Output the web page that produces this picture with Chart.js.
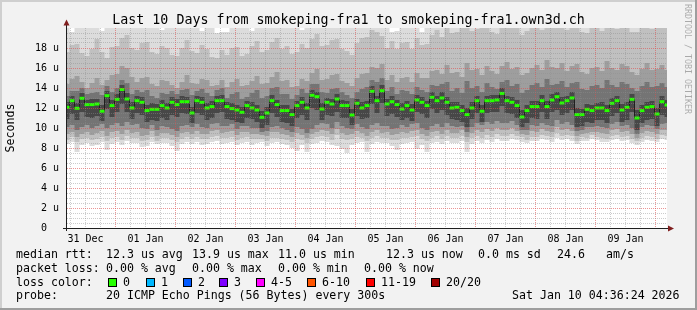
<!DOCTYPE html>
<html>
<head>
<meta charset="utf-8">
<script src="https://cdn.jsdelivr.net/npm/chart.js@4.4.1/dist/chart.umd.min.js"></script>
<style>
  html, body { margin: 0; padding: 0; background: #f2f2f2; }
  canvas { display: block; }
</style>
</head>
<body>
<canvas id="smoke" width="697" height="310"></canvas>
<script>
// time axis is in hours since 31 Dec 00:00; the graph covers 10 days ending Jan 10 04:36
const startHour = 4.6;
const spanHours = 240;
const stepHours = 2;

const dayLabels = ['31 Dec', '01 Jan', '02 Jan', '03 Jan', '04 Jan', '05 Jan', '06 Jan', '07 Jan', '08 Jan', '09 Jan'];
const yTickLabels = ['0  ', '2 u', '4 u', '6 u', '8 u', '10 u', '12 u', '14 u', '16 u', '18 u'];

// median rtt (us), one value every 2 hours
const median = [
  12.07, 12.73, 11.97, 12.97, 12.34, 12.34, 12.40, 11.68, 13.23, 12.24,
  12.87, 13.85, 12.90, 12.00, 12.73, 12.57, 11.74, 11.87, 11.87, 12.24,
  12.00, 12.57, 12.34, 12.63, 12.63, 11.50, 12.73, 12.57, 12.00, 12.14,
  12.73, 12.73, 12.14, 11.94, 11.80, 11.57, 12.24, 12.00, 11.80, 11.07,
  11.50, 12.73, 12.34, 11.74, 11.74, 11.34, 12.24, 12.57, 12.00, 13.27,
  13.13, 11.90, 12.57, 12.40, 12.90, 12.24, 12.24, 11.30, 12.47, 12.00,
  12.24, 13.67, 12.73, 13.73, 12.40, 12.63, 12.34, 11.90, 12.24, 11.80,
  12.80, 12.57, 12.24, 13.07, 12.73, 13.00, 12.57, 12.00, 12.07, 11.74,
  11.34, 12.00, 12.73, 11.68, 12.73, 12.73, 12.80, 13.46, 12.73, 12.57,
  12.24, 11.10, 11.74, 12.14, 12.14, 12.73, 12.14, 12.80, 13.13, 12.50,
  12.73, 13.00, 11.34, 11.34, 11.87, 11.74, 12.00, 12.00, 11.74, 12.47,
  12.73, 11.80, 12.07, 12.87, 11.00, 11.74, 12.07, 12.14, 11.40, 12.63,
  12.30
];

// smoke: sorted ping rtts (us) of the 20 pings, one value every 2 hours
const ping01 = [
  8.4, 8.6, 7.6, 8.3, 8.5, 8.2, 8.3, 8.6, 7.8, 8.4, 8.6, 8.3, 8.7, 8.5, 8.5, 8.1, 8.2, 8.6, 8.4, 8.5,
  8.5, 8.2, 7.7, 8.4, 8.6, 8.4, 8.6, 8.3, 8.4, 8.6, 8.7, 8.4, 8.5, 8.6, 8.3, 8.5, 8.6, 8.3, 8.5, 8.6,
  8.2, 8.5, 8.6, 8.4, 8.3, 8.0, 7.7, 8.3, 7.6, 8.4, 8.5, 8.7, 8.6, 8.3, 8.2, 7.9, 7.5, 8.3, 8.5, 8.6,
  7.6, 8.4, 8.6, 8.5, 8.5, 8.2, 7.8, 8.4, 8.5, 8.6, 7.9, 8.3, 7.6, 8.5, 8.6, 8.4, 8.7, 8.5, 8.5, 8.7,
  7.6, 8.4, 8.7, 8.5, 8.8, 8.6, 8.9, 8.7, 8.7, 8.9, 8.8, 8.6, 8.5, 8.7, 8.7, 8.9, 8.8, 8.6, 9.0, 8.8,
  8.9, 8.7, 8.4, 8.7, 8.7, 8.9, 8.8, 8.6, 8.6, 8.8, 8.9, 8.7, 8.8, 8.5, 8.3, 8.6, 8.8, 8.7, 8.6, 8.9,
  8.8
];
const ping03 = [
  8.8, 9.1, 8.6, 8.9, 9.0, 8.8, 8.9, 9.1, 8.7, 9.0, 9.1, 8.8, 9.2, 9.0, 9.0, 8.7, 8.8, 9.1, 8.7, 9.0,
  9.0, 8.8, 8.6, 8.9, 9.1, 8.9, 9.1, 8.9, 8.9, 9.1, 9.2, 9.0, 9.0, 9.1, 8.8, 9.0, 9.1, 8.9, 8.9, 8.9,
  8.7, 9.0, 9.0, 8.9, 8.8, 8.6, 8.9, 8.8, 8.5, 8.9, 9.1, 9.2, 9.1, 8.8, 9.3, 8.9, 8.8, 8.9, 9.1, 9.0,
  8.7, 9.0, 9.2, 9.0, 9.0, 8.8, 8.8, 9.0, 9.0, 9.1, 9.2, 8.9, 8.7, 9.0, 9.2, 8.9, 9.2, 9.0, 9.0, 9.2,
  8.6, 9.0, 9.2, 9.0, 9.3, 9.1, 9.4, 9.2, 9.2, 9.4, 9.2, 9.1, 8.8, 9.1, 9.1, 9.3, 9.2, 9.1, 9.5, 9.2,
  9.3, 9.2, 8.7, 9.1, 9.0, 9.3, 9.1, 9.0, 8.9, 9.2, 9.3, 9.1, 9.2, 8.9, 8.7, 9.0, 9.2, 9.1, 8.9, 9.3,
  9.2
];
const ping05 = [
  9.4, 9.6, 9.1, 9.4, 9.6, 9.3, 9.5, 9.7, 9.2, 9.6, 9.7, 9.4, 9.8, 9.5, 9.6, 9.2, 9.3, 9.7, 9.2, 9.5,
  9.5, 9.3, 9.1, 9.5, 9.6, 9.4, 9.7, 9.4, 9.4, 9.7, 9.8, 9.5, 9.6, 9.7, 9.3, 9.6, 9.6, 9.4, 9.4, 9.3,
  9.2, 9.6, 9.6, 9.4, 9.3, 9.1, 9.5, 9.3, 9.0, 9.4, 9.6, 9.8, 9.7, 9.4, 9.9, 9.5, 9.3, 9.4, 9.7, 9.5,
  9.2, 9.6, 9.8, 9.5, 9.6, 9.3, 9.4, 9.6, 9.5, 9.7, 9.8, 9.4, 9.2, 9.6, 9.7, 9.4, 9.8, 9.5, 9.5, 9.8,
  9.1, 9.5, 9.8, 9.6, 9.9, 9.7, 10.0, 9.8, 9.8, 10.0, 9.7, 9.4, 9.3, 9.7, 9.6, 9.9, 9.7, 9.6, 10.1, 9.8,
  9.9, 9.7, 9.2, 9.4, 9.5, 9.6, 9.6, 9.5, 9.4, 9.8, 9.9, 9.6, 9.7, 9.4, 9.0, 9.5, 9.7, 9.6, 9.4, 9.8,
  9.8
];
const ping07 = [
  10.1, 10.3, 9.8, 10.1, 10.3, 10.0, 10.2, 10.4, 10.0, 10.3, 10.5, 10.2, 10.6, 10.3, 10.4, 10.0, 9.9, 10.3, 9.8, 10.2,
  10.1, 9.9, 9.7, 10.2, 10.3, 10.1, 10.4, 10.1, 10.0, 10.4, 10.5, 10.2, 10.2, 10.4, 9.9, 10.2, 10.2, 10.0, 10.0, 9.6,
  9.7, 10.1, 10.2, 10.0, 9.8, 9.6, 10.1, 9.9, 9.5, 9.9, 10.3, 10.5, 10.4, 10.0, 10.6, 10.2, 10.0, 9.9, 10.4, 10.1,
  9.9, 10.3, 10.5, 10.2, 10.2, 9.9, 10.0, 10.3, 10.1, 10.4, 10.5, 10.0, 9.8, 10.2, 10.4, 10.1, 10.5, 10.2, 10.1, 10.2,
  9.6, 10.1, 10.5, 10.3, 10.6, 10.4, 10.7, 10.5, 10.5, 10.7, 10.3, 9.8, 9.8, 10.3, 10.2, 10.5, 10.3, 10.2, 10.8, 10.4,
  10.6, 10.3, 9.7, 9.8, 10.1, 10.1, 10.2, 10.1, 10.0, 10.4, 10.6, 10.2, 10.3, 10.0, 9.4, 10.1, 10.3, 10.2, 9.9, 10.4,
  10.5
];
const ping09 = [
  10.9, 11.4, 10.8, 11.6, 11.1, 11.0, 11.2, 10.7, 11.9, 11.1, 11.6, 12.4, 11.6, 10.9, 11.5, 11.3, 10.6, 10.8, 10.7, 11.0,
  10.8, 11.3, 11.1, 11.5, 11.4, 10.5, 11.5, 11.3, 10.8, 11.0, 11.5, 11.6, 10.9, 10.8, 10.6, 10.5, 11.0, 10.9, 10.6, 10.0,
  10.3, 11.5, 11.1, 10.6, 10.5, 10.2, 11.0, 11.3, 10.8, 12.0, 11.8, 10.8, 11.3, 11.2, 11.6, 11.0, 11.0, 10.3, 11.2, 10.9,
  11.0, 12.4, 11.5, 12.5, 11.2, 11.4, 11.1, 10.8, 11.0, 10.7, 11.6, 11.4, 11.0, 11.9, 11.5, 11.8, 11.3, 10.9, 10.8, 10.6,
  10.1, 10.9, 11.5, 10.6, 11.5, 11.6, 11.6, 12.2, 11.5, 11.4, 11.0, 10.1, 10.5, 11.0, 10.9, 11.6, 10.9, 11.6, 11.8, 11.3,
  11.5, 11.8, 10.1, 10.2, 10.6, 10.5, 10.8, 10.8, 10.5, 11.2, 11.5, 10.6, 10.8, 11.6, 9.8, 10.5, 10.8, 10.9, 10.2, 11.3,
  11.1
];
const ping12 = [
  12.6, 13.2, 12.5, 13.5, 12.8, 12.9, 12.9, 12.3, 13.7, 12.8, 13.4, 14.3, 13.5, 12.6, 13.2, 13.1, 12.3, 12.5, 12.4, 12.8,
  12.5, 13.1, 12.9, 13.2, 13.1, 12.1, 13.2, 13.1, 12.5, 12.7, 13.2, 13.3, 12.6, 12.5, 12.3, 12.1, 12.7, 12.6, 12.3, 11.7,
  12.1, 13.3, 12.8, 12.3, 12.3, 11.9, 12.7, 13.1, 12.5, 13.8, 13.6, 12.5, 13.0, 12.9, 13.4, 12.8, 12.7, 11.9, 12.9, 12.6,
  12.7, 14.2, 13.2, 14.3, 12.9, 13.2, 12.8, 12.5, 12.7, 12.4, 13.3, 13.1, 12.7, 13.6, 13.2, 13.6, 13.1, 12.6, 12.6, 12.3,
  12.0, 12.6, 13.2, 12.3, 13.2, 13.3, 13.3, 14.0, 13.2, 13.1, 12.8, 11.8, 12.3, 12.7, 12.7, 13.3, 12.7, 13.4, 13.6, 13.1,
  13.2, 13.6, 12.0, 11.9, 12.4, 12.3, 12.5, 12.6, 12.3, 13.0, 13.2, 12.4, 12.6, 13.4, 11.8, 12.3, 12.6, 12.7, 12.0, 13.2,
  12.8
];
const ping14 = [
  13.2, 13.7, 13.7, 14.0, 13.4, 13.5, 13.6, 13.3, 14.2, 13.6, 14.0, 14.8, 14.5, 13.4, 13.8, 13.6, 13.8, 13.2, 13.0, 13.5,
  13.4, 13.7, 13.4, 13.8, 13.9, 13.3, 13.7, 13.9, 13.5, 13.2, 13.8, 14.0, 13.0, 13.4, 13.6, 12.9, 13.1, 13.5, 13.8, 13.0,
  13.2, 14.0, 14.1, 13.4, 13.4, 12.9, 13.3, 13.9, 13.5, 14.4, 14.4, 13.6, 13.5, 13.9, 14.0, 13.6, 13.3, 13.0, 13.6, 13.9,
  14.1, 14.8, 14.6, 15.0, 13.7, 14.1, 13.4, 13.8, 13.7, 13.4, 14.1, 13.8, 13.6, 14.3, 14.2, 14.4, 14.6, 13.7, 14.0, 13.5,
  14.7, 14.0, 14.2, 13.6, 14.5, 14.1, 13.9, 14.6, 14.8, 14.2, 14.4, 13.5, 13.8, 14.3, 14.5, 14.1, 14.9, 14.3, 14.4, 14.7,
  14.1, 14.5, 14.6, 13.9, 13.8, 14.2, 14.3, 14.0, 14.8, 14.3, 14.1, 14.6, 14.4, 14.0, 13.7, 14.2, 14.6, 14.1, 14.2, 14.5,
  14.1
];
const ping16 = [
  14.4, 14.9, 15.2, 14.6, 14.0, 14.5, 15.0, 14.3, 14.8, 15.3, 15.4, 16.2, 16.0, 15.1, 14.6, 15.0, 15.1, 14.4, 14.2, 14.8,
  14.7, 14.3, 14.0, 14.6, 15.3, 14.5, 14.4, 14.9, 14.8, 14.2, 14.3, 14.8, 14.1, 14.6, 14.9, 14.2, 14.3, 14.7, 15.2, 14.4,
  14.5, 15.1, 15.6, 14.7, 14.8, 14.1, 14.2, 14.9, 14.7, 15.5, 15.9, 14.8, 14.9, 15.3, 15.4, 14.7, 14.5, 14.2, 15.0, 15.4,
  15.5, 16.1, 16.0, 16.4, 14.8, 15.3, 14.6, 15.0, 15.1, 14.6, 15.5, 15.0, 15.0, 15.7, 15.8, 15.4, 16.3, 15.5, 15.6, 15.1,
  16.5, 15.8, 15.9, 15.3, 16.2, 15.7, 15.4, 16.2, 16.6, 15.9, 16.1, 15.3, 15.5, 16.0, 16.3, 15.8, 16.8, 16.1, 16.0, 16.5,
  15.7, 16.2, 16.4, 15.6, 15.4, 16.0, 16.1, 15.7, 16.7, 16.0, 15.8, 16.4, 16.2, 15.6, 15.3, 15.9, 16.5, 15.8, 15.9, 16.3,
  15.8
];
const ping18 = [
  17.6, 18.3, 18.4, 17.5, 17.2, 17.9, 18.9, 17.6, 17.0, 18.1, 18.2, 19.0, 19.3, 18.0, 17.8, 18.5, 18.6, 17.6, 17.4, 18.2,
  18.0, 17.3, 17.2, 18.0, 18.8, 17.7, 17.5, 18.3, 17.9, 17.1, 17.0, 17.8, 17.3, 18.0, 18.1, 17.2, 17.4, 18.2, 18.7, 17.6,
  17.8, 18.6, 19.0, 17.9, 18.2, 17.4, 17.6, 18.4, 18.0, 18.9, 19.4, 18.2, 18.3, 18.8, 18.9, 17.9, 17.7, 17.3, 18.5, 19.0,
  19.1, 19.8, 19.6, 19.2, 18.0, 18.7, 17.9, 18.5, 18.6, 17.9, 19.0, 18.3, 18.4, 19.3, 19.8, 19.1, 20.4, 19.5, 19.6, 20.3,
  20.8, 19.7, 19.9, 20.6, 20.5, 19.6, 19.4, 20.4, 20.9, 20.0, 20.2, 19.3, 19.7, 20.5, 20.6, 19.8, 21.0, 20.2, 20.3, 20.9,
  19.8, 20.6, 20.7, 19.6, 19.5, 20.3, 20.4, 19.7, 21.1, 20.2, 19.9, 20.8, 20.5, 19.6, 19.6, 20.4, 20.8, 19.9, 20.2, 20.7,
  20.0
];
const ping20 = [
  22.1, 19.6, 23.4, 24.0, 21.8, 22.6, 20.9, 19.7, 21.5, 23.1, 23.7, 25.0, 22.0, 21.2, 23.4, 22.5, 21.5, 20.8, 20.6, 19.8,
  22.8, 23.6, 24.2, 22.9, 21.3, 20.4, 21.9, 19.7, 22.4, 20.7, 19.5, 19.6, 19.6, 21.4, 22.4, 20.8, 21.2, 19.7, 23.0, 22.1,
  21.7, 20.9, 24.5, 23.2, 22.3, 21.0, 21.2, 19.8, 20.6, 22.2, 25.3, 23.8, 22.6, 21.9, 23.8, 22.7, 21.4, 20.8, 22.9, 23.5,
  23.5, 21.6, 25.1, 24.0, 21.3, 19.6, 19.7, 21.0, 22.8, 23.4, 23.9, 19.6, 20.9, 22.5, 24.4, 23.1, 25.6, 24.2, 23.2, 22.0,
  25.9, 24.7, 24.1, 22.8, 25.0, 23.9, 23.3, 24.6, 26.2, 25.1, 24.8, 23.0, 23.6, 24.9, 25.4, 24.3, 26.5, 25.2, 24.7, 23.9,
  23.9, 25.5, 25.2, 24.0, 23.4, 24.8, 24.9, 23.6, 26.0, 24.5, 24.2, 25.7, 25.1, 23.8, 23.7, 24.9, 25.8, 24.4, 24.6, 25.3,
  24.3
];

const titleText = 'Last 10 Days from smokeping-fra1 to smokeping-fra1.own3d.ch';
const rttStats = ['12.3 us avg', '13.9 us max', '11.0 us min', '12.3 us now', '0.0 ms sd', '24.6', 'am/s'];
const lossStats = ['0.00 % avg', '0.00 % max', '0.00 % min', '0.00 % now'];
const lossLabels = ['0', '1', '2', '3', '4-5', '6-10', '11-19', '20/20'];
const probeText = '20 ICMP Echo Pings (56 Bytes) every 300s';
const dateText = 'Sat Jan 10 04:36:24 2026';

// styles
const smokeBands = [[ping01, ping20], [ping03, ping18], [ping05, ping16], [ping07, ping14], [ping09, ping12]];
const smokeColors = ['#dcdcdc', '#c0c0c0', '#9e9e9e', '#747474', '#474747'];
const lossColors = ['#26ff00', '#00b8ff', '#0059ff', '#7e00ff', '#ff00ff', '#ff5500', '#ff0000', '#a10000'];
const GRID = 'rgba(143,143,143,0.45)';
const MGRID = 'rgba(222,79,79,0.6)';
const MONO = '"DejaVu Sans Mono", monospace';

const toPoints = arr => arr.map((v, i) => ({ x: startHour + i * stepHours, y: v }));

const datasets = [];
smokeBands.forEach(([lo, hi], k) => {
  datasets.push({
    data: toPoints(lo), stepped: 'middle', fill: false,
    borderColor: 'rgba(0,0,0,0)', borderWidth: 0, pointRadius: 0
  });
  datasets.push({
    data: toPoints(hi), stepped: 'middle', fill: '-1',
    backgroundColor: smokeColors[k], borderColor: 'rgba(0,0,0,0)', borderWidth: 0, pointRadius: 0
  });
});
datasets.push({
  data: toPoints(median), stepped: 'middle', fill: false,
  borderColor: '#202020', borderWidth: 1, pointRadius: 0
});
datasets.push({
  data: toPoints(median), showLine: false, fill: false,
  pointStyle: 'line', pointRadius: 2.5, pointBorderWidth: 3,
  pointBorderColor: lossColors[0], pointBackgroundColor: lossColors[0]
});
datasets.forEach((d, i) => { d.order = datasets.length - i; });

const frame = {
  id: 'frame',
  beforeDraw(chart) {
    const { ctx, chartArea: a } = chart;
    ctx.save();
    ctx.fillStyle = '#f2f2f2';
    ctx.fillRect(0, 0, 697, 310);
    ctx.fillStyle = '#cfcfcf';
    ctx.fillRect(0, 0, 697, 2);
    ctx.fillRect(0, 0, 2, 310);
    ctx.fillStyle = '#9e9e9e';
    ctx.fillRect(0, 308, 697, 2);
    ctx.fillRect(695, 0, 2, 310);
    ctx.fillStyle = '#ffffff';
    ctx.fillRect(a.left, a.top, a.right - a.left, a.bottom - a.top);
    ctx.restore();
  },
  afterDraw(chart) {
    const { ctx, chartArea: a } = chart;
    ctx.save();

    // axes with arrows
    ctx.strokeStyle = '#1f1f1f';
    ctx.lineWidth = 1;
    ctx.beginPath();
    ctx.moveTo(a.left - 0.5, a.bottom + 3);
    ctx.lineTo(a.left - 0.5, a.top - 3);
    ctx.moveTo(a.left - 4, a.bottom + 0.5);
    ctx.lineTo(a.right + 3, a.bottom + 0.5);
    ctx.stroke();
    ctx.fillStyle = '#801f1f';
    ctx.beginPath();
    ctx.moveTo(a.left - 3.5, a.top - 2.5);
    ctx.lineTo(a.left + 2.5, a.top - 2.5);
    ctx.lineTo(a.left - 0.5, a.top - 8.5);
    ctx.closePath();
    ctx.fill();
    ctx.beginPath();
    ctx.moveTo(a.right + 1, a.bottom - 2.5);
    ctx.lineTo(a.right + 1, a.bottom + 3.5);
    ctx.lineTo(a.right + 7, a.bottom + 0.5);
    ctx.closePath();
    ctx.fill();

    ctx.fillStyle = '#000';
    ctx.textBaseline = 'alphabetic';

    // title
    ctx.font = '13.3px ' + MONO;
    ctx.textAlign = 'center';
    ctx.fillText(titleText, 348.5, 24);

    // vertical unit label
    ctx.font = '11.6px ' + MONO;
    ctx.save();
    ctx.translate(11, 128);
    ctx.rotate(-Math.PI / 2);
    ctx.textBaseline = 'middle';
    ctx.fillText('Seconds', 0, 0);
    ctx.restore();

    // watermark
    ctx.save();
    ctx.translate(687.5, 59);
    ctx.rotate(Math.PI / 2);
    ctx.textBaseline = 'middle';
    ctx.font = '8.3px ' + MONO;
    ctx.fillStyle = 'rgba(0,0,0,0.3)';
    ctx.fillText('RRDTOOL / TOBI OETIKER', 0, 0);
    ctx.restore();

    // legend
    ctx.textAlign = 'left';
    ctx.font = '11.6px ' + MONO;
    ctx.fillText('median rtt:', 16, 258);
    [106, 192, 278, 386, 478, 557, 606].forEach((x, i) => ctx.fillText(rttStats[i], x, 258));
    ctx.fillText('packet loss:', 16, 272);
    [106, 192, 278, 364].forEach((x, i) => ctx.fillText(lossStats[i], x, 272));
    ctx.fillText('loss color:', 16, 285.5);
    [108, 146, 183, 219, 256, 307, 366, 431].forEach((x, i) => {
      ctx.fillStyle = lossColors[i];
      ctx.fillRect(x, 278, 8, 8);
      ctx.strokeStyle = '#000';
      ctx.strokeRect(x + 0.5, 278.5, 8, 8);
      ctx.fillStyle = '#000';
      ctx.fillText(lossLabels[i], x + 15, 285.5);
    });
    ctx.fillText('probe:', 16, 299.3);
    ctx.fillText(probeText, 106, 299.3);
    ctx.fillText(dateText, 512, 299.3);

    ctx.restore();
  }
};

new Chart(document.getElementById('smoke'), {
  type: 'line',
  data: { datasets },
  plugins: [frame],
  options: {
    responsive: false,
    animation: false,
    events: [],
    layout: { padding: { left: 0, top: 28, right: 30, bottom: 0 } },
    plugins: { legend: { display: false }, tooltip: { enabled: false } },
    scales: {
      x: {
        type: 'linear',
        min: startHour,
        max: startHour + spanHours,
        afterBuildTicks: s => {
          s.ticks = [];
          for (let h = 6; h <= 240; h += 6) s.ticks.push({ value: h });
        },
        afterFit: s => { s.height = 82; },
        grid: {
          z: 1,
          drawTicks: false,
          lineWidth: 1,
          color: c => (c.tick.value % 24 === 0 ? MGRID : GRID)
        },
        border: { display: false, dash: [1, 1] },
        ticks: {
          autoSkip: false,
          maxRotation: 0,
          padding: 5,
          color: '#000',
          font: { family: 'DejaVu Sans Mono', size: 10 },
          callback: v => (v % 24 === 12 ? dayLabels[(v - 12) / 24] : '')
        }
      },
      y: {
        min: 0,
        max: 20,
        afterBuildTicks: s => {
          s.ticks = [];
          for (let v = 0; v < 20; v += 0.5) s.ticks.push({ value: v });
        },
        afterFit: s => { s.width = 67; },
        grid: {
          z: 1,
          drawTicks: false,
          lineWidth: 1,
          color: c => (c.tick.value === 0 ? 'rgba(0,0,0,0)' : c.tick.value % 2 === 0 ? MGRID : GRID)
        },
        border: { display: false, dash: [1, 1] },
        ticks: {
          autoSkip: false,
          padding: 8,
          color: '#000',
          font: { family: 'DejaVu Sans Mono', size: 10 },
          callback: v => (v % 2 === 0 ? yTickLabels[v / 2] : '')
        }
      }
    }
  }
});
</script>
</body>
</html>
